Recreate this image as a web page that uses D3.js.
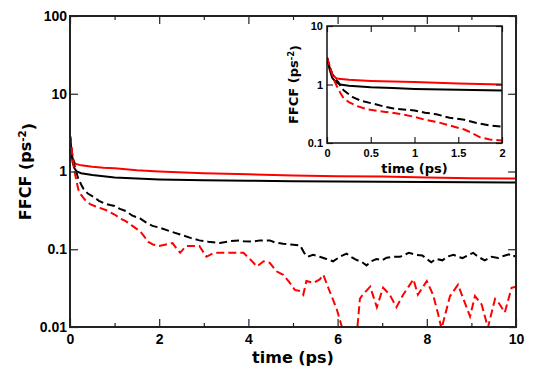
<!DOCTYPE html>
<html>
<head>
<meta charset="utf-8">
<script src="https://cdn.jsdelivr.net/npm/d3@7"></script>
<style>
  body { margin: 0; background: #fff; }
  svg { display: block; font-family: "DejaVu Sans", sans-serif; font-weight: bold; }
  .axis text { fill: #000; }
  .axis line { stroke: #222; stroke-width: 1.2; }
  .line { fill: none; stroke-width: 2; }
</style>
</head>
<body>
<div id="chart"></div>
<script>
// FFCF decay curves, [time (ps), FFCF (ps^-2)]
const blackSolid = [[0,2.9],[0.03,1.8],[0.06,1.3],[0.1,1.1],[0.15,1.0],[0.25,0.95],[0.5,0.9],[0.75,0.87],
  [1,0.84],[1.5,0.81],[2,0.79],[3,0.77],[4,0.76],[5,0.75],[6,0.745],[7,0.74],[8,0.735],[9,0.73],[10,0.72]];

const redSolid = [[0,2.9],[0.03,2.0],[0.06,1.5],[0.1,1.3],[0.13,1.25],[0.25,1.2],[0.5,1.15],[0.75,1.12],
  [1,1.1],[1.5,1.04],[2,1.0],[3,0.95],[4,0.92],[5,0.89],[6,0.87],[7,0.86],[8,0.84],[9,0.82],[10,0.81]];

const blackDashed = [[0,2.9],[0.03,2.0],[0.06,1.5],[0.1,1.2],[0.13,1.1],[0.16,0.9],[0.19,0.8],[0.25,0.68],
  [0.3,0.6],[0.4,0.52],[0.53,0.47],[0.65,0.42],[0.76,0.39],[0.9,0.37],[1.0,0.36],[1.12,0.33],[1.25,0.31],
  [1.4,0.27],[1.57,0.25],[1.71,0.22],[1.85,0.2],[2.0,0.19],[2.25,0.17],[2.47,0.155],[2.7,0.14],[2.9,0.13],
  [3.1,0.125],[3.36,0.12],[3.59,0.127],[3.8,0.13],[3.89,0.127],[4.1,0.125],[4.26,0.13],[4.48,0.13],
  [4.6,0.122],[4.78,0.118],[4.95,0.115],[5.16,0.112],[5.25,0.09],[5.33,0.08],[5.45,0.085],[5.6,0.08],
  [5.75,0.075],[5.9,0.07],[6.05,0.08],[6.2,0.088],[6.3,0.08],[6.4,0.074],[6.55,0.068],[6.65,0.062],
  [6.75,0.07],[6.87,0.075],[7.0,0.072],[7.1,0.078],[7.25,0.08],[7.4,0.08],[7.5,0.085],[7.6,0.09],
  [7.75,0.085],[7.9,0.083],[8.0,0.075],[8.1,0.068],[8.2,0.075],[8.35,0.072],[8.45,0.08],[8.6,0.085],
  [8.7,0.08],[8.8,0.077],[8.95,0.085],[9.04,0.09],[9.15,0.08],[9.3,0.072],[9.45,0.08],[9.6,0.077],
  [9.72,0.082],[9.84,0.086],[9.92,0.08],[10,0.083]];

const redDashed = [[0,2.9],[0.03,2.1],[0.06,1.5],[0.08,1.2],[0.11,0.95],[0.15,0.73],[0.19,0.58],[0.25,0.5],
  [0.34,0.43],[0.45,0.38],[0.55,0.36],[0.67,0.34],[0.8,0.32],[1.0,0.28],[1.12,0.25],[1.25,0.23],[1.4,0.2],
  [1.57,0.17],[1.65,0.15],[1.75,0.125],[1.86,0.115],[2.0,0.11],[2.15,0.115],[2.3,0.12],[2.4,0.1],
  [2.47,0.09],[2.6,0.11],[2.75,0.11],[2.9,0.11],[3.0,0.09],[3.06,0.08],[3.2,0.088],[3.3,0.09],[3.5,0.09],
  [3.59,0.09],[3.89,0.09],[4.04,0.074],[4.19,0.06],[4.34,0.07],[4.48,0.067],[4.63,0.052],[4.78,0.047],
  [4.93,0.037],[5.04,0.03],[5.16,0.029],[5.23,0.026],[5.3,0.039],[5.46,0.037],[5.6,0.041],[5.68,0.047],
  [5.83,0.028],[5.98,0.017],[6.09,0.0103],[6.2,0.005],[6.3,0.004],[6.43,0.008],[6.5,0.023],[6.54,0.025],
  [6.73,0.033],[6.88,0.018],[7.02,0.032],[7.17,0.026],[7.32,0.018],[7.47,0.026],[7.7,0.041],[7.8,0.026],
  [8.0,0.039],[8.14,0.026],[8.25,0.015],[8.33,0.0095],[8.42,0.015],[8.52,0.025],[8.7,0.035],[8.82,0.023],
  [8.97,0.0137],[9.08,0.025],[9.23,0.0195],[9.37,0.0098],[9.53,0.023],[9.6,0.021],[9.75,0.0154],
  [9.9,0.032],[10,0.033]];

const mainXTicks = [0, 2, 4, 6, 8, 10];
const mainXMinor = [1, 3, 5, 7, 9];
const mainYTicks = [0.01, 0.1, 1, 10, 100];
const mainYLabels = ['0.01', '0.1', '1', '10', '100'];
const insetXTicks = [0, 0.5, 1, 1.5, 2];
const insetXLabels = ['0', '0.5', '1', '1.5', '2'];
const insetYTicks = [0.1, 1, 10];
const insetYLabels = ['0.1', '1', '10'];

const series = [
  { data: redSolid, color: '#ff0000', dash: null },
  { data: blackSolid, color: '#000000', dash: null },
  { data: blackDashed, color: '#000000', dash: '8,4' },
  { data: redDashed, color: '#ff0000', dash: '8,4' }
];

const svg = d3.select('#chart').append('svg')
  .attr('width', 545)
  .attr('height', 375);

function panel(opts) {
  const w = opts.w, h = opts.h;
  const g = svg.append('g')
    .attr('transform', 'translate(' + opts.left + ',' + opts.top + ')');

  const x = d3.scaleLinear().domain(opts.xDomain).range([0, w]);
  const y = d3.scaleLog().domain(opts.yDomain).range([h, 0]);

  g.append('rect').attr('width', w).attr('height', h).attr('fill', '#fff');

  g.append('clipPath').attr('id', opts.id + '-clip')
    .append('rect').attr('width', w).attr('height', h);

  const line = d3.line()
    .x(function(d) { return x(d[0]); })
    .y(function(d) { return y(d[1]); });

  const lines = g.append('g').attr('clip-path', 'url(#' + opts.id + '-clip)');
  series.forEach(function(s) {
    lines.append('path')
      .datum(s.data.filter(function(d) { return d[0] <= opts.xDomain[1] + 0.05; }))
      .attr('class', 'line')
      .attr('stroke', s.color)
      .attr('stroke-width', opts.lw)
      .attr('stroke-dasharray', s.dash)
      .attr('d', line);
  });

  // bottom axis with labels, ticks pointing inward
  const xAxis = g.append('g').attr('class', 'axis')
    .attr('transform', 'translate(0,' + h + ')')
    .call(d3.axisBottom(x).tickValues(opts.xTicks).tickSize(-opts.major).tickSizeOuter(0)
      .tickPadding(opts.xPad).tickFormat(function(d, i) { return opts.xLabels[i]; }));
  xAxis.selectAll('text').style('font-size', opts.tickFont + 'px');

  // top axis, ticks only
  g.append('g').attr('class', 'axis')
    .call(d3.axisTop(x).tickValues(opts.xTicks).tickSize(-opts.major).tickSizeOuter(0).tickFormat(''));

  if (opts.xMinor) {
    g.append('g').attr('class', 'axis')
      .attr('transform', 'translate(0,' + h + ')')
      .call(d3.axisBottom(x).tickValues(opts.xMinor).tickSize(-opts.minor).tickSizeOuter(0).tickFormat(''));
    g.append('g').attr('class', 'axis')
      .call(d3.axisTop(x).tickValues(opts.xMinor).tickSize(-opts.minor).tickSizeOuter(0).tickFormat(''));
  }

  const yAxis = g.append('g').attr('class', 'axis')
    .call(d3.axisLeft(y).tickValues(opts.yTicks).tickSize(-opts.major).tickSizeOuter(0)
      .tickPadding(opts.yPad).tickFormat(function(d, i) { return opts.yLabels[i]; }));
  yAxis.selectAll('text').style('font-size', opts.tickFont + 'px');

  g.append('g').attr('class', 'axis')
    .attr('transform', 'translate(' + w + ',0)')
    .call(d3.axisRight(y).tickValues(opts.yTicks).tickSize(-opts.major).tickSizeOuter(0).tickFormat(''));

  g.selectAll('.axis .domain').remove();

  // frame
  g.append('rect')
    .attr('width', w).attr('height', h)
    .attr('fill', 'none')
    .attr('stroke', opts.frame)
    .attr('stroke-width', opts.frameW);

  // axis titles
  g.append('text')
    .attr('x', w / 2)
    .attr('y', h + opts.xTitleOff)
    .attr('text-anchor', 'middle')
    .style('font-size', opts.titleFont + 'px')
    .text('time (ps)');

  const yt = g.append('text')
    .attr('transform', 'translate(' + (-opts.yTitleOff) + ',' + (h / 2) + ') rotate(-90)')
    .attr('text-anchor', 'middle')
    .style('font-size', opts.titleFont + 'px');
  yt.append('tspan').text('FFCF (ps');
  yt.append('tspan').attr('dy', '-0.45em').style('font-size', (opts.titleFont * 0.65) + 'px').text('-2');
  yt.append('tspan').attr('dy', '0.45em').text(')');
}

// main plot
panel({
  id: 'main', left: 70, top: 16, w: 446, h: 311,
  xDomain: [0, 10], yDomain: [0.01, 100],
  xTicks: mainXTicks, xLabels: mainXTicks.map(String), xMinor: mainXMinor,
  yTicks: mainYTicks, yLabels: mainYLabels,
  major: 8, minor: 4, tickFont: 14, titleFont: 16,
  xPad: 7, yPad: 3, xTitleOff: 36, yTitleOff: 39,
  lw: 2, frame: '#222', frameW: 2
});

// inset, first 2 ps
panel({
  id: 'inset', left: 327, top: 26, w: 175, h: 117,
  xDomain: [0, 2], yDomain: [0.1, 10],
  xTicks: insetXTicks, xLabels: insetXLabels, xMinor: null,
  yTicks: insetYTicks, yLabels: insetYLabels,
  major: 6, minor: 3, tickFont: 11, titleFont: 13,
  xPad: 6, yPad: 4, xTitleOff: 30, yTitleOff: 29,
  lw: 1.8, frame: '#111', frameW: 1.5
});
</script>
</body>
</html>
